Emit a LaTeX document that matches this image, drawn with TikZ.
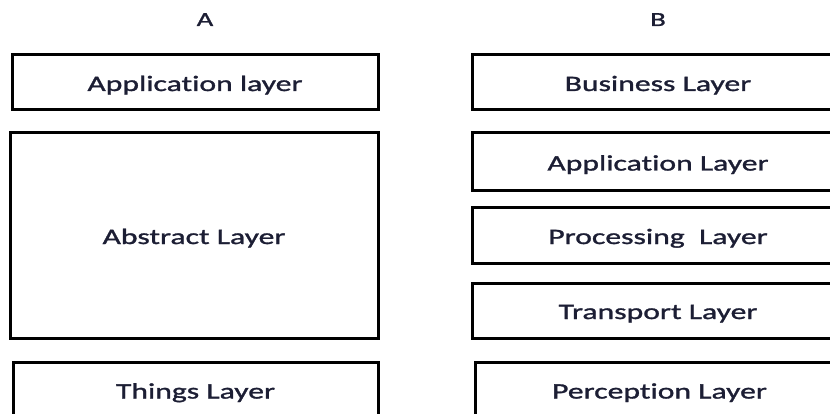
\documentclass[tikz,border=0pt]{standalone}
\usepackage{fontspec}
\setmainfont[FakeStretch=1.44, FakeBold=1.3, Ligatures=NoCommon]{Carlito}
\definecolor{inkdark}{RGB}{28,30,52}
\begin{document}
\begin{tikzpicture}[x=1pt,y=-1pt,
  layerbox/.style={draw=black, line width=3pt, rectangle, inner sep=0pt,
    text=inkdark, font=\fontsize{22}{24}\selectfont,
    text height=17pt, text depth=0pt},
  colhead/.style={text=inkdark, font=\fontsize{20}{22}\selectfont, anchor=base, inner sep=0pt}]
  \useasboundingbox (0,0) rectangle (830,414);
  \fill[white] (0,0) rectangle (830,414);
  \begin{scope}
    \clip (0,0) rectangle (830,414);
    % column headings
    \node[colhead] (hA) at (205,26) {A};
    \node[colhead] (hB) at (658,26) {B};
    % left stack
    \node[layerbox, minimum width=366pt, minimum height=55pt] (aApp) at (195,82.5) {Application layer};
    \node[layerbox, minimum width=368pt, minimum height=205pt] (aAbs) at (194,235.5) {Abstract Layer};
    \node[layerbox, minimum width=365pt, minimum height=56pt] (aThg) at (195.5,390) {Things Layer};
    % right stack
    \node[layerbox, minimum width=372pt, minimum height=55pt] (bBus) at (658,82.5) {Business Layer};
    \node[layerbox, minimum width=372pt, minimum height=58pt] (bApp) at (658,162) {Application Layer};
    \node[layerbox, minimum width=372pt, minimum height=55pt] (bPro) at (658,235.5) {Processing\ \ Layer};
    \node[layerbox, minimum width=372pt, minimum height=55pt] (bTra) at (658,310.5) {Transport Layer};
    \node[layerbox, minimum width=369pt, minimum height=56pt] (bPer) at (659.5,390) {Perception Layer};
  \end{scope}
\end{tikzpicture}
\end{document}
